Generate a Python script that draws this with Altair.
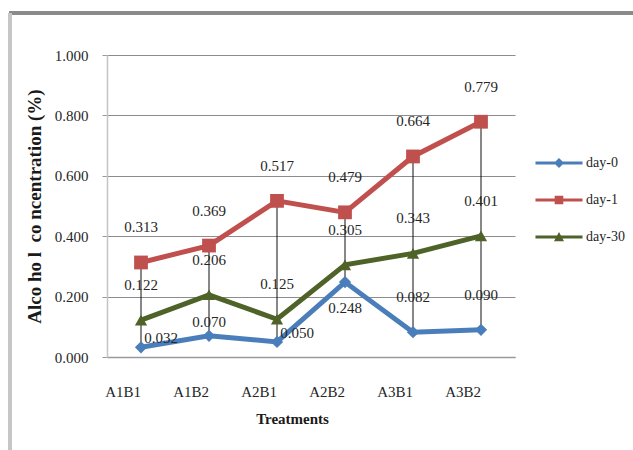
import altair as alt
import pandas as pd

# Alcohol concentration (%) per treatment, measured on three days
treatments = ["A1B1", "A1B2", "A2B1", "A2B2", "A3B1", "A3B2"]
day_0 = [0.032, 0.070, 0.050, 0.248, 0.082, 0.090]
day_1 = [0.313, 0.369, 0.517, 0.479, 0.664, 0.779]
day_30 = [0.122, 0.206, 0.125, 0.305, 0.343, 0.401]

series_names = ["day-0", "day-1", "day-30"]
series_values = [day_0, day_1, day_30]
series_colors = ["#4a7ebb", "#c0504d", "#4f6228"]
series_shapes = ["diamond", "square", "triangle-up"]

# placement of each value label relative to its point
day0_label_place = ["right", "near", "right", "below", "above", "above"]
label_offsets = {"right": (20, -9), "near": (0, -14), "below": (0, 26), "above": (0, -35)}

FONT = "Liberation Serif"

rows = []
for name, vals in zip(series_names, series_values):
    for i, (t, v) in enumerate(zip(treatments, vals)):
        place = day0_label_place[i] if name == "day-0" else "above"
        rows.append({"treatment": t, "series": name, "value": v, "place": place})
long_df = pd.DataFrame(rows)

wide_df = pd.DataFrame({"treatment": treatments, "low": day_0, "high": day_1})

x_enc = alt.X(
    "treatment:N",
    sort=treatments,
    scale=alt.Scale(domain=treatments),
    axis=alt.Axis(
        title="Treatments", labelAngle=0, ticks=False, tickSize=0, labelPadding=34,
        labelFont=FONT, labelFontSize=15, labelColor="#262626",
        titleFont=FONT, titleFontSize=15, titleFontWeight="bold", titleColor="#1a1a1a",
        titlePadding=12, titleX=185,
        domainColor="#9a9a9a", domainWidth=1.5,
    ),
)
y_enc = alt.Y(
    "value:Q",
    scale=alt.Scale(domain=[0, 1]),
    axis=alt.Axis(
        title="Alco ho l\u00a0 co ncentration (%)", values=[0, 0.2, 0.4, 0.6, 0.8, 1.0],
        format=".3f", tickSize=5, tickColor="#9a9a9a", labelPadding=14,
        labelFont=FONT, labelFontSize=15, labelColor="#262626",
        titleFont=FONT, titleFontSize=19, titleFontWeight="bold", titleColor="#1a1a1a",
        titlePadding=10,
        domainColor="#c4c4c4", domainWidth=1.5,
        gridColor="#8c8c8c", gridWidth=1.2,
    ),
)

base = alt.Chart(long_df).encode(x=x_enc, y=y_enc)

layers = []

# high-low lines joining day-1 and day-0 at each treatment
drops = alt.Chart(wide_df).mark_rule(color="#111111", strokeWidth=1).encode(
    x=alt.X("treatment:N", sort=treatments),
    y=alt.Y("high:Q"),
    y2="low:Q",
)
layers.append(drops)

for name, color in zip(series_names, series_colors):
    layers.append(
        base.transform_filter(alt.datum.series == name).mark_line(color=color, strokeWidth=5)
    )
for name, color, shape in zip(series_names, series_colors, series_shapes):
    size = 190 if shape == "square" else 150
    layers.append(
        base.transform_filter(alt.datum.series == name).mark_point(
            shape=shape, filled=True, size=size, color=color, opacity=1
        )
    )

for place, (dx, dy) in label_offsets.items():
    layers.append(
        base.transform_filter(alt.datum.place == place)
        .mark_text(font=FONT, fontSize=15, color="#262626", dx=dx, dy=dy, baseline="middle")
        .encode(text=alt.Text("value:Q", format=".3f"))
    )

# legend symbols: a short line with the series marker on it
legend_paths = [
    "M-1.96,-0.13L1.96,-0.13L1.96,0.13L-1.96,0.13Z M0,-0.42L0.42,0L0,0.42L-0.42,0Z",
    "M-1.96,-0.13L1.96,-0.13L1.96,0.13L-1.96,0.13Z M-0.36,-0.36L0.36,-0.36L0.36,0.36L-0.36,0.36Z",
    "M-1.96,-0.13L1.96,-0.13L1.96,0.13L-1.96,0.13Z M0,-0.42L0.42,0.36L-0.42,0.36Z",
]
legend_def = dict(
    title=None, orient="none", legendX=440, legendY=96, padding=0,
    symbolSize=576, symbolStrokeWidth=0, symbolOpacity=1,
    labelFont=FONT, labelFontSize=14, labelColor="#262626", labelOffset=15,
    rowPadding=18,
)
legend_layer = (
    alt.Chart(long_df)
    .transform_filter("false")
    .mark_point(filled=True, opacity=1)
    .encode(
        color=alt.Color("series:N", scale=alt.Scale(domain=series_names, range=series_colors),
                        legend=alt.Legend(**legend_def)),
        shape=alt.Shape("series:N", scale=alt.Scale(domain=series_names, range=legend_paths),
                        legend=alt.Legend(**legend_def)),
    )
)
layers.append(legend_layer)

# outer frame of the chart area
frame_top = alt.Chart(wide_df).mark_rule(color="#8a8a8a", strokeWidth=3).encode(
    x=alt.value(-98), x2=alt.value(530), y=alt.value(-42)
)
frame_left = alt.Chart(wide_df).mark_rule(color="#c6c6c6", strokeWidth=3.5).encode(
    x=alt.value(-97), y=alt.value(-42), y2=alt.value(400)
)
layers.extend([frame_top, frame_left])

chart = (
    alt.layer(*layers)
    .properties(
        width=408, height=302,
        padding={"left": 107, "top": 55, "right": 118, "bottom": 93},
        autosize=alt.AutoSizeParams(type="none"),
        background="white",
    )
    .configure(font=FONT)
    .configure_view(stroke=None)
)

chart.save("out.html", embed_options={"renderer": "svg", "actions": False})
